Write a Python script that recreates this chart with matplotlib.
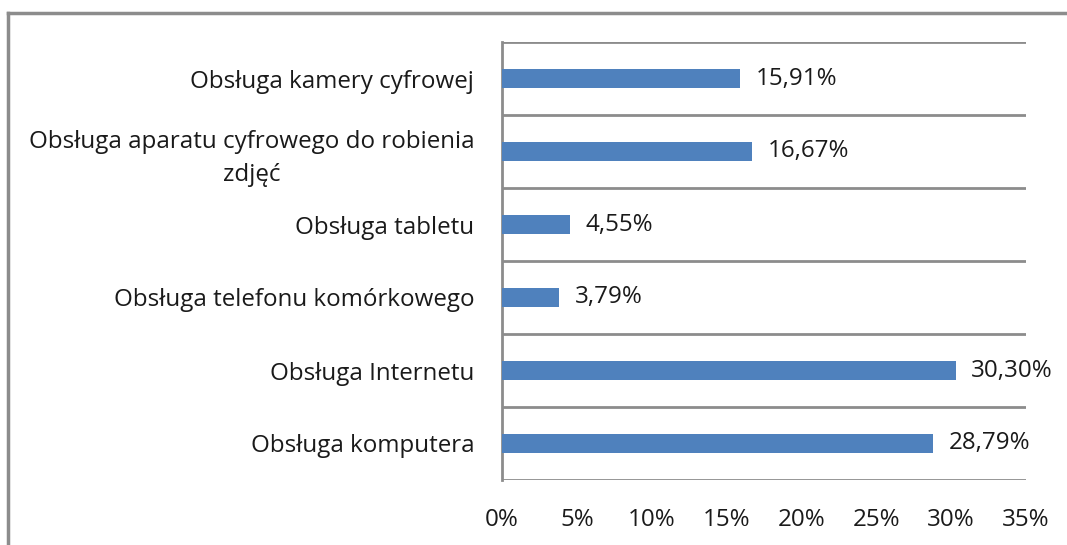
import matplotlib.pyplot as plt
from matplotlib.lines import Line2D

categories = [
    "Obsługa kamery cyfrowej",
    "Obsługa aparatu cyfrowego do robienia\nzdjęć",
    "Obsługa tabletu",
    "Obsługa telefonu komórkowego",
    "Obsługa Internetu",
    "Obsługa komputera",
]
values = [15.91, 16.67, 4.55, 3.79, 30.30, 28.79]
xticks = [0, 5, 10, 15, 20, 25, 30, 35]

plt.rcParams['font.family'] = ['Open Sans', 'DejaVu Sans']
FS = 17.4

fig = plt.figure(figsize=(10.67, 5.45), dpi=100)
ax = fig.add_axes([502 / 1067, 1 - 480 / 545, (1026 - 502) / 1067, (480 - 42) / 545])

pos = list(range(len(categories)))
ax.barh(pos, values, height=0.27, color="#4F81BD", zorder=3)
for p, v in zip(pos, values):
    ax.text(v + 1.05, p, f"{v:.2f}%".replace(".", ","), va="center", ha="left",
            fontsize=FS, color="#1a1a1a")

ax.set_xlim(0, 35)
ax.set_ylim(len(categories) - 0.5, -0.5)
ax.set_xticks(xticks)
ax.set_xticklabels([f"{t}%" for t in xticks], fontsize=FS, color="#1a1a1a")
ax.set_yticks(pos)
ax.set_yticklabels(categories, fontsize=FS, color="#1a1a1a", multialignment="center",
                   linespacing=1.45)
ax.tick_params(axis="x", length=0, pad=20)
ax.tick_params(axis="y", length=0, pad=20)

# category separators
for b in [i - 0.5 for i in range(len(categories) + 1)]:
    ax.axhline(b, color="#8c8c8c", lw=2, zorder=1)

for s in ["top", "right", "bottom"]:
    ax.spines[s].set_visible(False)
ax.spines["left"].set_color("#8c8c8c")
ax.spines["left"].set_linewidth(2)

# outer chart border (cropped)
fig.add_artist(Line2D([8 / 1067, 8 / 1067], [0, 1 - 13 / 545], transform=fig.transFigure,
                      color="#8c8c8c", lw=2.5))
fig.add_artist(Line2D([8 / 1067, 1], [1 - 13 / 545, 1 - 13 / 545], transform=fig.transFigure,
                      color="#8c8c8c", lw=2.5))

fig.savefig("out.png", dpi=100)
